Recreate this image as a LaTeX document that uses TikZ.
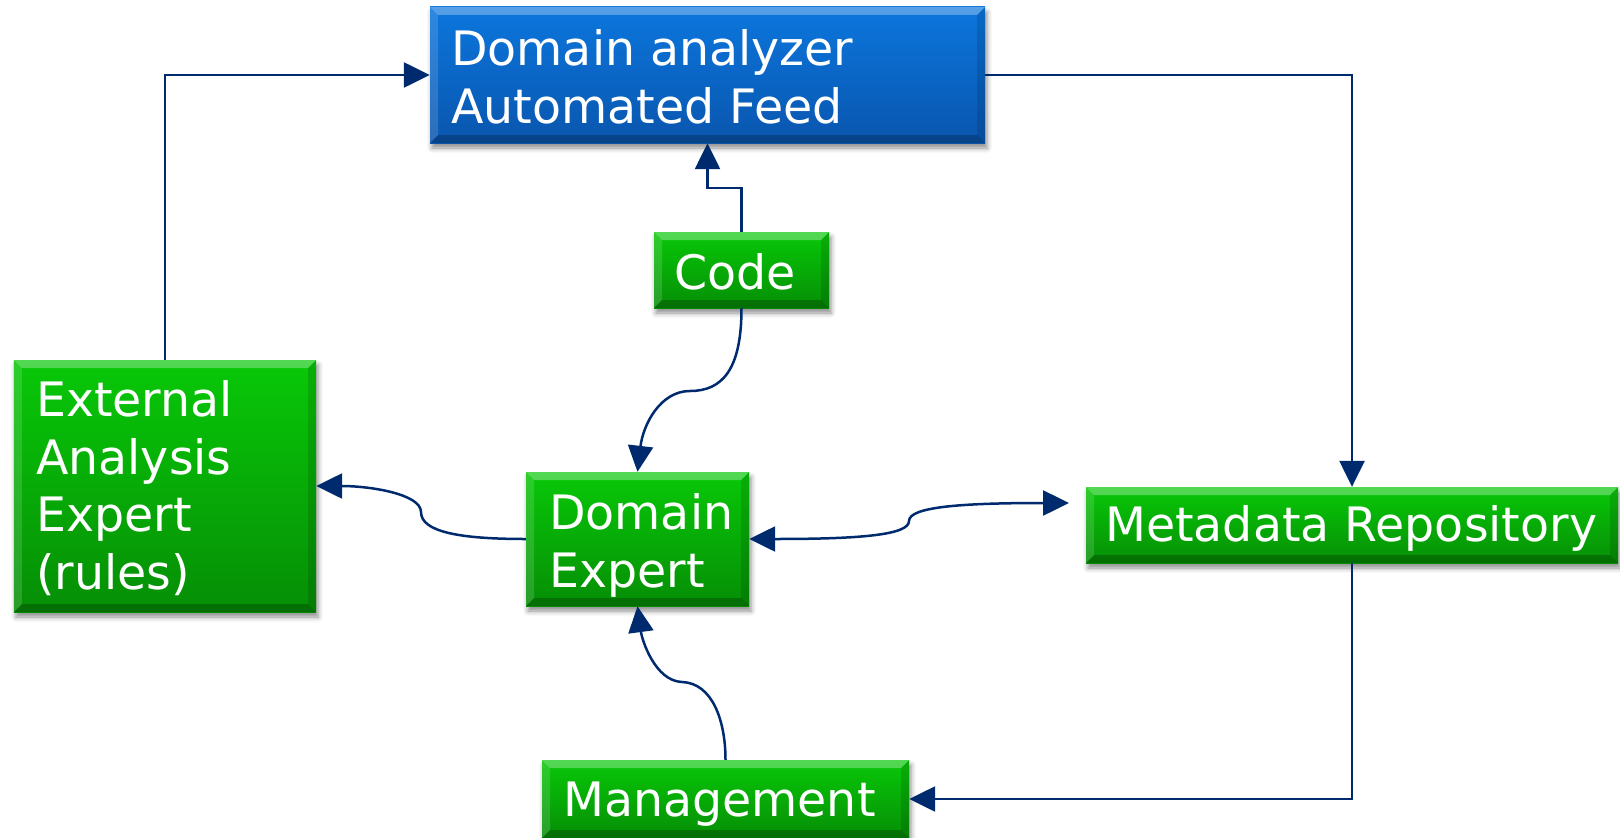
\documentclass[tikz,border=0pt]{standalone}
\usepackage{fontspec}
\setmainfont{DejaVu Sans}
\usetikzlibrary{arrows.meta,shadows.blur}
\definecolor{navy}{HTML}{002A6E}
\definecolor{gtop}{HTML}{08C808}
\definecolor{gbot}{HTML}{068E06}
\definecolor{btop}{HTML}{0B76DD}
\definecolor{bbot}{HTML}{0A56AE}
\tikzset{
  bevel/.style={path picture={
    \coordinate (bvnw) at (path picture bounding box.north west);
    \coordinate (bvne) at (path picture bounding box.north east);
    \coordinate (bvsw) at (path picture bounding box.south west);
    \coordinate (bvse) at (path picture bounding box.south east);
    \fill[white,opacity=.30] (bvnw) -- (bvne) -- ([shift={(-8bp,-8bp)}]bvne) -- ([shift={(8bp,-8bp)}]bvnw) -- cycle;
    \fill[white,opacity=.14] (bvnw) -- ([shift={(8bp,-8bp)}]bvnw) -- ([shift={(8bp,8bp)}]bvsw) -- (bvsw) -- cycle;
    \fill[black,opacity=.22] (bvsw) -- (bvse) -- ([shift={(-8bp,8bp)}]bvse) -- ([shift={(8bp,8bp)}]bvsw) -- cycle;
    \fill[black,opacity=.12] (bvne) -- ([shift={(-8bp,-8bp)}]bvne) -- ([shift={(-8bp,8bp)}]bvse) -- (bvse) -- cycle;
  }},
  boxbase/.style={rectangle, inner sep=0pt, bevel,
    blur shadow={shadow xshift=2bp, shadow yshift=-5bp, shadow blur radius=5bp, shadow opacity=45}},
  gbox/.style={boxbase, top color=gtop, bottom color=gbot},
  bbox/.style={boxbase, top color=btop, bottom color=bbot},
  lbl/.style={text=white, inner sep=0pt, anchor=base west, align=left,
    font=\fontsize{47.6pt}{57.7pt}\selectfont},
  conn/.style={draw=navy, line width=2.5bp, -{Triangle[length=26bp,width=25bp]}},
}
\begin{document}
\begin{tikzpicture}[x=1bp,y=-1bp]
\useasboundingbox (0,0) rectangle (1620,837);
% boxes
\node[bbox, minimum width=555bp, minimum height=136bp] (da) at (707.5,75) {};
\node[gbox, minimum width=175bp, minimum height=76bp] (code) at (741.5,270) {};
\node[gbox, minimum width=302bp, minimum height=252bp] (ext) at (165,486) {};
\node[gbox, minimum width=223bp, minimum height=134bp] (de) at (637.5,539) {};
\node[gbox, minimum width=532bp, minimum height=76bp] (meta) at (1352,525) {};
\node[gbox, minimum width=367bp, minimum height=78bp] (mgmt) at (725.5,799) {};
% labels (anchored at the baseline of the last line)
\node[lbl] (tda) at (451,123) {Domain analyzer\\Automated Feed};
\node[lbl] (tcode) at (674,289) {Code};
\node[lbl] (text) at (36,589) {External\\Analysis\\Expert\\(rules)};
\node[lbl] (tde) at (549,587) {Domain\\Expert};
\node[lbl] (tmeta) at (1105,541) {Metadata Repository};
\node[lbl] (tmgmt) at (563,816) {Management};
% connectors
\coordinate (metain) at (1069,503);
\draw[conn] (ext.north) |- (da.west);
\draw[conn] (da.east) -| (meta.north);
\draw[conn] (meta.south) |- (mgmt.east);
\draw[conn] (code.north) -- ++(0,-44) -| (da.south);
\draw[conn] (code.south) .. controls (741.5,370) and (722,391) .. (690,391)
  .. controls (660,391) and (643,425) .. (de.north);
\draw[conn] (de.west) .. controls (460,539) and (421,532) .. (421,512)
  .. controls (421,494) and (370,486) .. (ext.east);
\draw[conn, {Triangle[length=26bp,width=25bp]}-{Triangle[length=26bp,width=25bp]}] (de.east) .. controls (860,539) and (909,535) .. (909,521)
  .. controls (909,507) and (960,503) .. (metain);
\draw[conn] (mgmt.north) .. controls (725.5,720) and (712,683) .. (682,682)
  .. controls (655,681) and (642,640) .. (de.south);
\end{tikzpicture}
\end{document}
